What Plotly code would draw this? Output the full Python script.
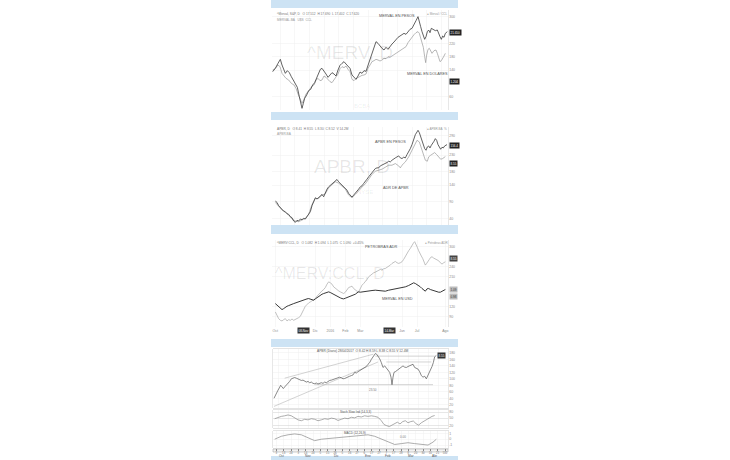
import plotly.graph_objects as go

# ---------------- Panel 1: Merval en pesos / en dolares ----------------
p1_t_pesos = [22, 30, 38, 45, 50, 55, 60, 66, 72, 78, 84, 90, 96, 102, 106, 110, 114, 118, 124, 130,
              136, 142, 148, 154, 160, 165, 170, 176, 182, 188, 194, 200, 206, 212, 218, 224, 230, 236, 242, 248,
              254, 260, 266, 272, 278, 284, 290, 296, 302, 308, 314, 320, 326, 332, 338, 344, 350, 356, 362, 368,
              374, 380, 386, 392, 398, 404, 410, 416, 422, 428, 434, 440, 446, 452, 458, 462, 466, 470, 474, 478,
              482, 486, 490, 494, 498, 504, 510, 516, 520, 524, 528, 532, 536, 540, 546]
p1_pesos = [135, 145, 160, 172, 155, 140, 130, 138, 132, 120, 110, 102, 88, 60, 45, 25, 40, 55, 65, 78,
            82, 95, 102, 118, 135, 142, 145, 138, 128, 118, 125, 132, 128, 122, 140, 154, 160, 165, 158, 152,
            145, 125, 118, 112, 122, 134, 130, 138, 136, 155, 175, 190, 210, 225, 220, 212, 205, 200, 208, 202,
            212, 218, 224, 232, 238, 242, 246, 250, 247, 256, 262, 265, 275, 288, 300, 288, 270, 255, 245, 232,
            240, 255, 260, 252, 265, 262, 258, 260, 248, 240, 232, 242, 238, 250, 255]
p1_t_usd = [22, 30, 38, 44, 50, 56, 62, 70, 78, 86, 92, 98, 104, 110, 116, 122, 128, 134, 140, 146,
            152, 158, 164, 170, 176, 182, 188, 194, 200, 206, 212, 218, 224, 230, 236, 242, 248, 254, 260, 266,
            272, 278, 284, 290, 296, 302, 308, 314, 320, 326, 332, 338, 344, 350, 356, 362, 368, 374, 380, 386,
            392, 398, 404, 410, 416, 422, 428, 434, 440, 446, 452, 458, 462, 466, 470, 474, 478, 481, 484, 488,
            492, 496, 500, 506, 512, 516, 520, 524, 528, 532, 536, 540]
p1_usd = [140, 145, 155, 150, 130, 122, 115, 110, 100, 95, 85, 68, 52, 40, 52, 68, 75, 82, 92, 95,
          110, 115, 108, 110, 122, 118, 110, 105, 102, 110, 118, 128, 144, 150, 147, 152, 142, 135, 112, 108,
          114, 118, 122, 124, 125, 128, 145, 155, 165, 168, 172, 170, 167, 170, 175, 174, 180, 178, 182, 185,
          188, 192, 198, 200, 204, 210, 222, 230, 240, 246, 252, 255, 250, 238, 222, 208, 180, 162, 185, 202,
          205, 195, 190, 198, 200, 190, 175, 165, 168, 178, 182, 190]
p1_ticks = [60, 140, 180, 220, 300]

# ---------------- Panel 2: APBR en pesos / ADR ----------------
p2_t_pesos = list(range(30, 460, 5)) + [458, 462, 466, 470, 474, 478, 482, 486, 490, 494, 498, 502,
                                        506, 510, 514, 518, 522, 526, 530, 534, 538, 545]
p2_pesos = [92, 88, 78, 72, 68, 62, 60, 54, 52, 45, 42, 32, 28, 34, 32, 38, 36, 40, 38, 45,
            50, 60, 78, 92, 102, 98, 102, 108, 112, 105, 118, 128, 135, 140, 145, 150, 154, 157, 150, 145,
            142, 138, 132, 125, 115, 108, 104, 110, 115, 122, 128, 135, 138, 145, 150, 158, 165, 172, 178, 185,
            190, 192, 192, 198, 200, 202, 205, 208, 212, 210, 215, 220, 222, 225, 228, 222, 220, 224, 222, 232,
            240, 250, 262, 278, 292, 300,
            305, 298, 285, 272, 262, 250, 245, 255, 258, 252, 260, 265, 272, 280, 275, 262, 252, 248, 254, 252,
            258, 262]
p2_t_adr = list(range(30, 410, 10)) + [405, 410, 420, 430, 440, 448, 455, 462, 468, 474, 480, 486, 490,
                                       496, 502, 508, 514, 520, 526, 532, 540]
p2_adr = [88, 75, 65, 58, 50, 38, 32, 30, 34, 40, 52, 82, 100, 100, 110, 114, 132, 140, 150, 146,
          138, 128, 110, 102, 112, 124, 134, 144, 160, 172, 182, 185, 188, 194, 200, 200, 205, 198,
          192, 200, 210, 225, 245, 265, 275, 270, 250, 232, 215, 212, 225, 230, 235, 238, 232, 225, 218, 220,
          226]
p2_ticks = [40, 90, 140, 180, 230, 290]

# ---------------- Panel 3: Petrobras ADR / Merval en USD ----------------
p3_t_adr = list(range(30, 450, 5)) + [448, 452, 456, 460, 464, 468, 472, 476, 480, 484, 488, 492, 496,
                                      500, 505, 510, 515, 520, 525, 530, 535, 540]
p3_adr = [105, 92, 85, 80, 78, 82, 85, 78, 82, 80, 84, 80, 82, 86, 88, 92, 105, 112, 122, 128,
          132, 135, 138, 140, 145, 152, 158, 162, 168, 172, 178, 188, 195, 192, 188, 180, 175, 170, 168, 165,
          162, 160, 164, 172, 178, 180, 182, 175, 170, 167, 165, 178, 185, 190, 195, 202, 210, 215, 220, 222,
          224, 226, 228, 232, 230, 234, 235, 238, 240, 245, 250, 254, 256, 252, 250, 252, 255, 262, 272, 280,
          288, 295, 305, 312,
          315, 308, 298, 288, 278, 272, 265, 255, 245, 250, 258, 262, 268, 270, 266, 264, 262, 258, 252, 248,
          252, 255]
p3_t_merval = list(range(30, 305, 5)) + list(range(310, 450, 10)) + list(range(445, 545, 5))
p3_merval = [130, 126, 122, 118, 112, 115, 120, 122, 124, 125, 128, 130, 132, 134, 135, 138, 138, 140, 142, 144,
             145, 144, 142, 140, 144, 148, 150, 154, 158, 160, 162, 164, 165, 163, 160, 158, 155, 152, 150, 147,
             145, 144, 146, 148, 150, 152, 154, 155, 158, 162, 165, 164, 165, 166, 165,
             167, 169, 170, 169, 168, 167, 170, 172, 172, 174, 176, 180, 184, 190,
             192, 190, 187, 184, 180, 175, 170, 167, 174, 175, 172, 170, 168, 167, 165, 164, 164, 167, 170, 172]
p3_ticks = [90, 120, 210, 240, 300]
p3_tick_t = [30, 150, 195, 240, 285, 410, 455, 540]
p3_tick_labels = ["Oct", "Dic", "2016", "Feb", "Mar", "Jun", "Jul", "Ago"]

# ---------------- Panel 4: APBR tecnico ----------------
p4_t = [18, 22, 26, 30, 34, 38, 42, 46, 50, 55, 60, 65, 70, 75, 80, 85, 90, 95, 100, 105,
        110, 115, 120, 125, 130, 135, 140, 145, 150, 155, 160, 165, 170, 175, 180, 185, 190, 195, 200, 205,
        210, 215, 220, 225, 230, 235, 240, 245, 250, 255, 260, 265, 270, 275, 280, 285, 290, 295, 300, 305,
        310, 315, 318, 322, 326, 330, 335, 340, 345, 350, 355, 360, 365, 369, 372, 375, 378, 382, 386, 390,
        395, 400, 405, 410, 415, 420, 425, 430, 435, 440, 445, 450, 455, 460, 465, 470, 475, 480, 484, 488,
        492, 496, 500, 505]
p4_price = [40, 50, 55, 65, 72, 80, 75, 70, 75, 80, 85, 92, 100, 103, 104, 102, 100, 98, 95, 96,
            92, 90, 92, 88, 90, 86, 85, 87, 84, 85, 88, 86, 90, 88, 92, 95, 96, 98, 100, 102,
            104, 105, 103, 100, 101, 104, 105, 108, 110, 112, 120, 118, 122, 125, 128, 130, 135, 138, 145, 150,
            160, 168, 175, 178, 176, 170, 162, 150, 135, 140, 132, 125, 120, 105, 82, 105, 120, 122, 125, 128,
            134, 138, 140, 136, 135, 138, 140, 142, 145, 135, 132, 130, 122, 110, 105, 108, 100, 110, 120, 125,
            138, 150, 168, 172]
trend_low_t, trend_low_v = [18, 330], [15, 152]
trend_up_t, trend_up_v = [50, 316], [102, 176]
resist_t, resist_v = [322, 500], [170, 170]
mid_t, mid_v = [355, 490], [152, 152]
support_t, support_v = [140, 495], [82, 82]

stoch_t = list(range(20, 340, 10)) + [340, 348, 356, 364, 372, 380, 388, 396, 404, 412, 420, 428, 436,
                                      444, 452, 460, 468, 476, 484, 492, 500]
stoch_v = [32, 37, 40, 42, 45, 42, 35, 28, 25, 30, 28, 32, 30, 25, 28, 32, 30, 34, 32, 26,
           30, 34, 32, 37, 35, 40, 38, 42, 40, 42, 40, 37,
           25, 12, 8, 5, 10, 15, 20, 14, 22, 25, 18, 22, 24, 15, 10, 18, 24, 30, 36, 40, 43]
macd_t = list(range(20, 500, 20)) + [495, 505]
macd_v = [30, 40, 45, 48, 45, 35, 25, 30, 32, 33, 35, 38, 40, 42, 45, 40, 30, 20, 12, 15,
          18, 15, 12, 10, 20, 30]
p4_tick_t = list(range(25, 540, 22))
p4_tick_labels = [str(d) for d in [3, 13, 24, 3, 14, 24, 5, 15, 26, 5, 16, 27, 6, 17, 27, 7, 17, 28,
                                   8, 20, 30, 10, 21]]
p4_months = ["Oct", "Nov", "Dic", "Ene", "Feb", "Mar", "Abr"]
p4_month_t = [40, 120, 205, 300, 360, 430, 500]

# ---------------- figure ----------------
W, H = 730, 460
def fx(px):
    return px / W
def fy(py):
    return 1 - py / H

fig = go.Figure()

def add_line(x, y, color, width, ax):
    fig.add_trace(go.Scatter(x=x, y=y, mode="lines", line=dict(color=color, width=width),
                             xaxis="x" + ax, yaxis="y" + ax, hoverinfo="skip", showlegend=False))

add_line(p1_t_usd, p1_usd, "#9a9a9a", 0.7, "")
add_line(p1_t_pesos, p1_pesos, "#3a3a3a", 0.8, "")
add_line(p2_t_adr, p2_adr, "#9a9a9a", 0.7, "2")
add_line(p2_t_pesos, p2_pesos, "#3a3a3a", 0.8, "2")
add_line(p3_t_adr, p3_adr, "#a8a8a8", 0.7, "3")
add_line(p3_t_merval, p3_merval, "#222222", 0.9, "3")
for tx, tv in [(trend_low_t, trend_low_v), (trend_up_t, trend_up_v), (resist_t, resist_v),
               (mid_t, mid_v), (support_t, support_v)]:
    add_line(tx, tv, "#b5b5b5", 0.6, "4")
add_line(p4_t, p4_price, "#555555", 0.7, "4")
add_line(stoch_t, stoch_v, "#8a8a8a", 0.7, "5")
add_line(macd_t, macd_v, "#8a8a8a", 0.7, "6")

font_small = dict(size=3.5, color="#8a8a8a", family="Liberation Sans, Arial, sans-serif")
grid = "#efefef"

def xa(dom, rng, anchor, **kw):
    d = dict(domain=dom, range=rng, anchor=anchor, showgrid=True, gridcolor=grid, gridwidth=0.5,
             zeroline=False, showticklabels=False, ticks="", showline=False, fixedrange=True)
    d.update(kw)
    return d

def ya(dom, rng, anchor, **kw):
    d = dict(domain=dom, range=rng, anchor=anchor, side="right", showgrid=True, gridcolor=grid,
             gridwidth=0.5, zeroline=False, showticklabels=True, tickfont=font_small, ticks="",
             showline=True, linecolor="#d0d0d0", linewidth=0.5, nticks=9, fixedrange=True)
    d.update(kw)
    return d

xd = [fx(272), fx(448)]
xd4 = [fx(273), fx(448)]
layout = dict(
    width=W, height=H, margin=dict(l=0, r=0, t=0, b=0),
    paper_bgcolor="white", plot_bgcolor="white", showlegend=False,
    font=dict(family="Liberation Sans, Arial, sans-serif"),
    xaxis=xa(xd, [20, 548], "y", dtick=44),
    yaxis=ya([fy(110), fy(10)], [20, 320], "x", tickvals=p1_ticks),
    xaxis2=xa(xd, [20, 548], "y2", dtick=44),
    yaxis2=ya([fy(225), fy(127)], [20, 315], "x2", tickvals=p2_ticks),
    xaxis3=xa(xd, [20, 548], "y3", tickvals=p3_tick_t, ticktext=p3_tick_labels,
              showticklabels=True, tickfont=font_small, ticklen=1),
    yaxis3=ya([fy(327), fy(240)], [60, 320], "x3", tickvals=p3_ticks),
    xaxis4=xa(xd4, [15, 540], "y4", dtick=30, showline=True, mirror=True, linecolor="#c8c8c8", linewidth=0.5),
    yaxis4=ya([fy(408), fy(349)], [10, 192], "x4", nticks=12, mirror=True),
    xaxis5=xa(xd4, [15, 540], "y5", dtick=30, showline=True, mirror=True, linecolor="#c8c8c8", linewidth=0.5),
    yaxis5=ya([fy(428), fy(410)], [0, 62], "x5", tickvals=[8, 34, 55], ticktext=["20", "50", "80"],
              gridcolor="#cfcfcf", mirror=True),
    xaxis6=xa(xd4, [15, 540], "y6", tickvals=p4_tick_t, ticktext=p4_tick_labels, showticklabels=True,
              tickfont=dict(size=2.8, color="#777"), ticks="outside", ticklen=2, tickcolor="#888",
              showline=True, mirror=True, linecolor="#c8c8c8", linewidth=0.5),
    yaxis6=ya([fy(448), fy(431)], [0, 58], "x6", tickvals=[10, 30, 50], ticktext=["-1", "0", "1"],
              mirror=True),
)
fig.update_layout(**layout)

# light-blue separator bands
band = "#cde3f4"
shapes = []
for y0, y1 in [(0, 8), (112, 120), (225, 234), (339, 347), (456, 460)]:
    shapes.append(dict(type="rect", xref="paper", yref="paper", x0=fx(271), x1=fx(458),
                       y0=fy(y1), y1=fy(y0), fillcolor=band, line=dict(width=0), layer="above"))
# date strip under panel 4
shapes.append(dict(type="rect", xref="paper", yref="paper", x0=fx(273), x1=fx(448),
                   y0=fy(452), y1=fy(449), fillcolor="#f2f2f2", line=dict(color="#9a9a9a", width=0.5),
                   layer="below"))
fig.update_layout(shapes=shapes)

ann = []
def text(x, y, s, size=3.5, color="#666", anchor="left", **kw):
    d = dict(xref="paper", yref="paper", x=fx(x), y=fy(y), text=s, showarrow=False,
             xanchor=anchor, yanchor="middle", font=dict(size=size, color=color,
             family="Liberation Sans, Arial, sans-serif"))
    d.update(kw)
    ann.append(d)

# watermarks
wm = "rgba(0,0,0,0.09)"
text(350, 52, "^MERV, D", 19, wm, "center")
text(362, 106, "BCBA", 6, wm, "center")
text(352, 166, "APBR, D", 19, wm, "center")
text(365, 192, "NYSE", 6, wm, "center")
text(330, 273, "^MERV:CCL, D", 16, wm, "center")

# headers
text(275, 14, "^Merval, S&P, D   O 17.512  H 17.690  L 17.402  C 17.620", 3.2, "#777")
text(275, 20, "MERVAL.BA   U$S  CCL", 3.2, "#999")
text(425, 14, "● Merval / CCL", 3, "#999")
text(275, 129, "APBR, D   O 8.41  H 8.55  L 8.30  C 8.52  V 14.2M", 3.2, "#777")
text(275, 134, "APBR.BA", 3.2, "#999")
text(425, 129, "● APBR.BA  %", 3, "#999")
text(275, 243, "^MERV:CCL, D   O 1.082  H 1.094  L 1.075  C 1.090  +0.45%", 3.2, "#777")
text(423, 243, "● Petrobras ADR", 3, "#999")
text(362, 351, "APBR (Diario) 28/04/2017  O 8.42 H 8.59 L 8.38 C 8.55 V 12.4M", 3.2, "#555", "center")
text(355, 412, "Stoch Slow Ind (14,3,3)", 3, "#555", "center")
text(355, 433, "MACD (12,26,9)", 3, "#555", "center")
text(373, 390, "23.50", 3, "#777", "center")
text(403, 437, "0.00", 3, "#777", "center")

# series labels
text(397, 16, "MERVAL EN PESOS", 3.8, "#555", "center")
text(427, 74, "MERVAL EN DOLARES", 3.8, "#555", "center")
text(390, 142, "APBR EN PESOS", 3.8, "#555", "center")
text(396, 188, "ADR DE APBR", 3.8, "#555", "center")
text(382, 247, "PETROBRAS ADR", 3.8, "#555", "center")
text(397, 299, "MERVAL EN USD", 3.8, "#555", "center")

# price boxes
def box(x, y, s, bg="#222", fg="#fff"):
    text(x, y, s, 3, fg, "left", bgcolor=bg, borderpad=0.5)
box(449, 32, "21.650")
box(449, 82, "1.204")
box(449, 146, "156.4")
box(449, 163, "8.55")
box(449, 258, "8.55", "#444")
box(449, 289, "1.09", "#bbb", "#333")
box(449, 296, "0.98", "#bbb", "#333")
box(297, 330, "08-Nov", "#333")
box(383, 330, "14-Mar", "#333")
box(437, 355, "8.55", "#333")

for t, m in zip(p4_month_t, p4_months):
    ann.append(dict(xref="x6", yref="paper", x=t, y=fy(456), text=m, showarrow=False,
                    font=dict(size=3.2, color="#555"), xanchor="center", yanchor="middle"))

fig.update_layout(annotations=ann)
fig.write_html("out.html", config={"displayModeBar": False, "staticPlot": True},
               post_script="document.body.style.margin='0';document.body.style.padding='0';")
